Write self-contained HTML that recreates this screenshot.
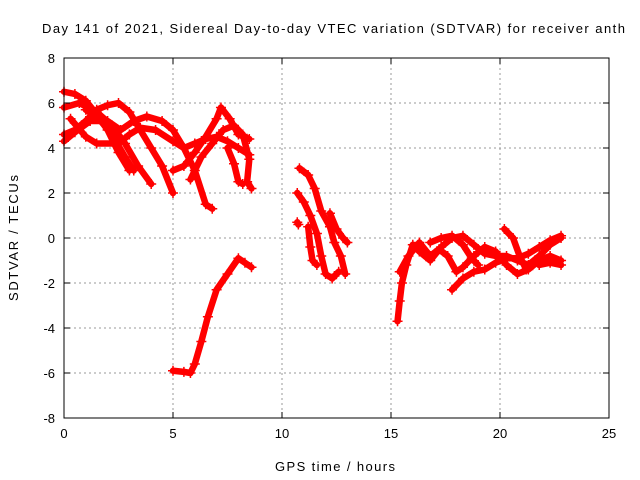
<!DOCTYPE html>
<html><head><meta charset="utf-8"><style>
body{margin:0;background:#fff}
svg{display:block;font-family:"Liberation Sans",sans-serif;font-size:13px}
</style></head><body>
<svg id="chart" width="640" height="480">
<text x="42" y="33" textLength="583" lengthAdjust="spacing">Day 141 of 2021, Sidereal Day-to-day VTEC variation (SDTVAR) for receiver anth</text>
<g id="grid"></g>
<g id="marks"></g>
<rect x="64" y="58" width="545" height="360" fill="none" stroke="#000"/>
<g id="ticks"></g>
<text x="275" y="471" textLength="120" lengthAdjust="spacing">GPS time / hours</text>
<text transform="translate(18,238) rotate(-90)" x="-63" textLength="126" lengthAdjust="spacing">SDTVAR / TECUs</text>
</svg>
<script>
const xTicks=[0,5,10,15,20,25];
const yTicks=[-8,-6,-4,-2,0,2,4,6,8];
const tA=[[0,6.5],[0.5,6.4],[1,6.1],[1.5,5.5],[2,4.8],[2.5,3.8],[3,3.0]];
const tB=[[0,5.8],[0.7,6.0],[1.5,5.6],[2.2,5.0],[2.8,4.2],[3.4,3.2],[4,2.4]];
const tC=[[0,4.6],[0.5,4.8],[1,5.2],[1.5,5.7],[2,5.9],[2.5,6.0],[3,5.6],[3.5,4.8],[4,4.0],[4.5,3.2],[5,2.0]];
const tD=[[0,4.3],[0.5,4.7],[1.2,5.2],[2,5.2],[2.6,4.8],[3.2,5.2],[3.8,5.4],[4.5,5.2],[5,4.8],[5.5,4.0],[6,3.0],[6.5,1.5],[6.8,1.3]];
const tE=[[0.3,5.3],[1,4.5],[1.5,4.2],[2.5,4.2],[3,4.6],[3.5,4.9],[4.2,4.8],[5,4.3],[5.5,4.0],[6,4.2],[6.5,4.4],[7,4.5],[7.5,4.3],[8,4.0],[8.5,3.7]];
const tF=[[5,3.0],[5.5,3.2],[6,3.8],[6.5,4.5],[7,5.3],[7.2,5.8],[7.6,5.3],[8,4.6],[8.5,4.4]];
const tG=[[5.8,2.6],[6.3,3.6],[6.8,4.2],[7.3,4.8],[7.8,5.0],[8.2,4.6],[8.5,3.5],[8.4,2.5],[8.6,2.2]];
const tH=[[7.5,4.0],[7.8,3.3],[8,2.5],[8.2,2.4]];
const tJ=[[1,5.7],[1.6,5.3],[2.2,4.6],[2.8,3.6],[3.2,3.0]];
const tI=[[5,-5.9],[5.5,-5.95],[5.8,-6.0],[6.0,-5.6],[6.3,-4.6],[6.6,-3.5],[7,-2.3],[7.5,-1.6],[8,-0.9],[8.3,-1.1],[8.6,-1.3]];
const tM1=[[10.8,3.1],[11.2,2.8],[11.5,2.2],[11.8,1.2],[12.2,0.5],[12.4,-0.2],[12.7,-0.8],[12.9,-1.6]];
const tM2=[[10.7,2.0],[11,1.6],[11.3,1.0],[11.6,0.2],[11.8,-0.8],[12.0,-1.6],[12.3,-1.8],[12.6,-1.5]];
const tM3=[[11.2,0.5],[11.3,-0.4],[11.4,-1.0],[11.6,-1.2]];
const tM5=[[10.7,0.7],[10.75,0.6]];
const tM4=[[12.2,1.1],[12.5,0.4],[12.8,0.0],[13.0,-0.2]];
const tR1=[[15.3,-3.7],[15.4,-2.8],[15.5,-2.0],[15.7,-1.2],[16.0,-0.3],[16.3,-0.6],[16.8,-1.0],[17.3,-0.4],[17.8,0.0],[18.3,0.1],[18.8,-0.3],[19.3,-0.7],[19.8,-0.8],[20.3,-0.8],[20.8,-1.0],[21.3,-1.2],[21.8,-0.8],[22.3,-0.3],[22.8,0.0]];
const tR2=[[15.4,-1.5],[15.8,-0.8],[16.3,-0.2],[16.8,-0.8],[17.2,-0.5],[17.6,-0.8],[18.0,-1.5],[18.3,-1.3],[18.8,-0.8],[19.3,-0.4],[19.8,-0.6],[20.3,-1.2],[20.8,-1.6],[21.3,-1.4],[21.8,-1.0],[22.3,-0.8],[22.8,-1.0]];
const tR3=[[16.8,-0.2],[17.3,0.0],[17.8,0.1],[18.3,-0.3],[18.7,-0.9],[19.0,-1.2]];
const tR4=[[17.8,-2.3],[18.3,-1.8],[18.8,-1.5],[19.3,-1.4],[19.8,-1.1],[20.3,-0.9],[20.8,-0.9],[21.3,-0.7],[21.8,-0.4],[22.3,-0.1],[22.8,0.1]];
const tR5=[[20.2,0.4],[20.6,0.0],[20.9,-0.8],[21.2,-1.4]];
const tR6=[[21.8,-1.2],[22.3,-1.1],[22.8,-1.2]];
const series=[tA,tB,tC,tD,tE,tF,tG,tH,tJ,tI,tM1,tM2,tM3,tM5,tM4,tR1,tR2,tR3,tR4,tR5,tR6];

const X0=64,X1=609,Y0=418,Y1=58;
const sx=v=>X0+(v-0)/(25-0)*(X1-X0);
const sy=v=>Y0-(v+8)/16*(Y0-Y1);
const NS='http://www.w3.org/2000/svg';
function mk(t,a,p){const e=document.createElementNS(NS,t);for(const k in a)e.setAttribute(k,a[k]);p.appendChild(e);return e;}
const grid=document.getElementById('grid'),ticks=document.getElementById('ticks'),marks=document.getElementById('marks');
xTicks.forEach(v=>{const x=sx(v);
 if(v>0&&v<25){const g=mk('line',{x1:x,x2:x,y1:Y1,y2:Y0,stroke:'#999','stroke-dasharray':'2,3'},grid);
 
 }
 mk('line',{x1:x,x2:x,y1:Y0,y2:Y0-6,stroke:'#000'},ticks);
 mk('line',{x1:x,x2:x,y1:Y1,y2:Y1+6,stroke:'#000'},ticks);
 const t=mk('text',{x:x,y:Y0+20,'text-anchor':'middle'},ticks);t.textContent=v;
 
 });
yTicks.forEach(v=>{const y=sy(v);
 if(v>-8&&v<8){const g=mk('line',{x1:X0,x2:X1,y1:y,y2:y,stroke:'#999','stroke-dasharray':'2,3'},grid);
 
 }
 mk('line',{x1:X0,x2:X0+6,y1:y,y2:y,stroke:'#000'},ticks);
 mk('line',{x1:X1,x2:X1-6,y1:y,y2:y,stroke:'#000'},ticks);
 const t=mk('text',{x:X0-9,y:y+5,'text-anchor':'end'},ticks);t.textContent=v;
 
 });
series.forEach((s,i)=>{
 const pl=mk('polyline',{points:s.map(p=>sx(p[0])+','+sy(p[1])).join(' '),fill:'none',stroke:'#f00','stroke-width':6.5,'stroke-linejoin':'round','stroke-linecap':'round'},marks);
 
 
 s.forEach(p=>{const x=sx(p[0]),y=sy(p[1]);
  const m=mk('path',{d:`M${x-5},${y}H${x+5}M${x},${y-5}V${y+5}`,stroke:'#f00','stroke-width':1.5},marks);
  
  });
});
</script>
</body></html>
